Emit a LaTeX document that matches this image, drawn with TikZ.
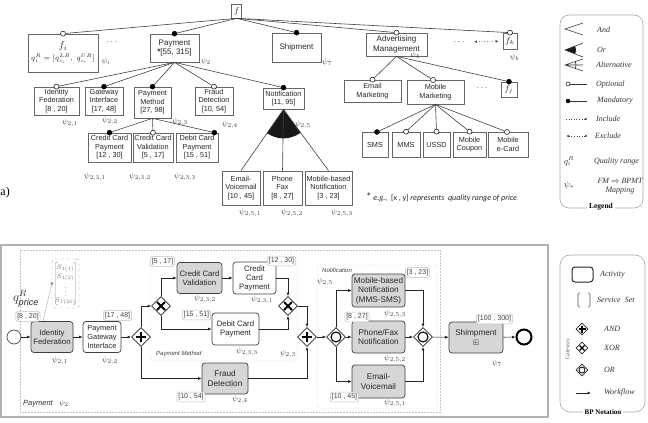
\RequirePackage{fix-cm}
\documentclass[tikz,border=0pt]{standalone}
\usepackage{amssymb}
\usepackage{fontspec}
\setmainfont{Liberation Sans}
\newfontfamily\lgfont{Liberation Serif}
\newfontfamily\notefont{Carlito}
\usetikzlibrary{shapes.geometric,arrows.meta,calc}
\definecolor{taskgray}{HTML}{D6D6D6}
\newcommand\myAND[1]{\draw[line width=2pt] ([xshift=-5pt]#1.center) -- ([xshift=5pt]#1.center) ([yshift=-5pt]#1.center) -- ([yshift=5pt]#1.center);}
\newcommand\myXOR[1]{\draw[line width=2pt] ([shift={(-4pt,-4pt)}]#1.center) -- ([shift={(4pt,4pt)}]#1.center) ([shift={(-4pt,4pt)}]#1.center) -- ([shift={(4pt,-4pt)}]#1.center);}
\newcommand\myOR[1]{\draw[line width=1.1pt] (#1.center) circle[radius=5pt];}
\begin{document}
\begin{tikzpicture}[x=1pt,y=-1pt,
  fm/.style={draw=black!60, line width=0.7pt, fill=white, inner sep=0pt, align=center, font=\fontsize{7.3}{8.4}\selectfont, text=black!85},
  fmA/.style={fm, font=\fontsize{8}{9.4}\selectfont},
  optc/.style={circle, draw=black!85, line width=0.6pt, fill=white, inner sep=0pt, minimum size=5pt},
  mandc/.style={circle, draw=black, fill=black, inner sep=0pt, minimum size=5pt},
  fml/.style={draw=black!75, line width=0.6pt},
  psi/.style={font=\fontsize{8}{9}\selectfont, text=black!75, inner sep=0pt},
  task/.style={draw=black!75, line width=0.7pt, rounded corners=3pt, fill=taskgray, inner sep=0pt, align=center, font=\fontsize{7.8}{9}\selectfont, text=black!85},
  taskB/.style={task, font=\fontsize{8.2}{9.6}\selectfont},
  wtask/.style={task, fill=white},
  rng/.style={draw=black!25, line width=0.5pt, fill=white, rounded corners=1.5pt, inner sep=1.5pt, font=\fontsize{7}{8}\selectfont, text=black!75},
  flow/.style={draw=black!85, line width=0.6pt, -{Latex[length=3.5pt,width=3pt]}},
  gw/.style={diamond, aspect=1, draw=black!85, line width=0.8pt, fill=white, inner sep=0pt, minimum width=19pt, minimum height=19pt},
  sgw/.style={diamond, aspect=1, draw=black!85, line width=0.7pt, fill=white, inner sep=0pt, minimum width=12pt, minimum height=12pt},
  grp/.style={draw=black!30, line width=0.5pt, dotted, rounded corners=3pt},
  lg/.style={font=\lgfont\itshape\fontsize{8}{9}\selectfont, text=black!80, inner sep=0pt},
]
\useasboundingbox (0,0) rectangle (648,423);

%% ================= Feature model =================
\node[fm, minimum width=10pt, minimum height=14pt, font=\fontsize{8.5}{9}\selectfont] (f) at (236.7,11) {$f$};

\node[fm, minimum width=70pt, minimum height=38pt] (fi) at (63,53) {{\fontsize{10}{12}\selectfont$f_i$}\\[2pt]{\fontsize{7.5}{9}\selectfont$q_i^R=[q^{LB}_{c_i},\ q^{UB}_{c_i}]$}};
\node[psi] (psii) at (106,61) {$\psi_i$};
\node[font=\fontsize{9}{9}\selectfont] (dots1) at (112,42) {$\cdots$};
\node[fmA, minimum width=49pt, minimum height=28pt] (pay) at (174.5,48) {Payment\\{\bfseries*}[55, 315]};
\node[psi] (psi2) at (206,61) {$\psi_2$};
\node[fmA, minimum width=49pt, minimum height=29pt] (ship) at (296.5,47.5) {Shipment};
\node[psi] (psi7) at (327,62) {$\psi_7$};
\node[fmA, minimum width=61pt, minimum height=23pt] (adv) at (396.5,44.5) {Advertising\\Management};
\node[psi] (psi4) at (415,55) {$\psi_4$};
\node[font=\fontsize{9}{9}\selectfont] (dotsk) at (459,42) {$\cdots$};
\node[fm, minimum width=14pt, minimum height=16pt, font=\fontsize{8.5}{9}\selectfont] (fk) at (510,41) {$f_k$};
\node[psi] (psik) at (515,57) {$\psi_k$};
\draw[black!75, dotted, line width=0.6pt, {Latex[length=3pt,width=2.5pt]}-{Latex[length=3pt,width=2.5pt]}, shorten <=6pt, shorten >=4pt] (dotsk) -- (fk);

\node[optc] (fio) at (fi.north) {};
\node[mandc] (paym) at (pay.north) {};
\node[mandc] (shipm) at (ship.north) {};
\node[optc] (advo) at (adv.north) {};
\node[optc] (fko) at (fk.north) {};
\draw[fml] (f.south) -- (fio);
\draw[fml] (f.south) -- (paym);
\draw[fml] (f.south) -- (shipm);
\draw[fml] (f.south) -- (advo);
\draw[fml] (f.south) -- (fko);

% level 2 under Payment
\node[fm, minimum width=45pt, minimum height=28pt] (idf) at (56.5,101) {Identity\\Federation\\{}[8 , 20]};
\node[fm, minimum width=38pt, minimum height=28pt] (gwi) at (104,101) {Gateway\\Interface\\{}[17, 48]};
\node[fm, minimum width=37pt, minimum height=31pt] (pm) at (152.5,102.5) {Payment\\Method\\{}[27, 98]};
\node[fm, minimum width=38pt, minimum height=28pt] (fd) at (214,101) {Fraud\\Detection\\{}[10, 54]};
\node[fm, minimum width=41pt, minimum height=21pt] (notif) at (283.5,98.5) {Notification\\{}[11, 95]};
\node[optc] (idfo) at (idf.north) {};
\node[mandc] (gwim) at (gwi.north) {};
\node[mandc] (pmm) at (pm.north) {};
\node[optc] (fdo) at (fd.north) {};
\node[mandc] (notifm) at (notif.north) {};
\draw[fml] (pay.south) -- (idfo);
\draw[fml] (pay.south) -- (gwim);
\draw[fml] (pay.south) -- (pmm);
\draw[fml] (pay.south) -- (fdo);
\draw[fml] (pay.south) -- (notifm);
\node[psi] (psi21) at (70,123) {$\psi_{2,1}$};
\node[psi] (psi22) at (110,121) {$\psi_{2,2}$};
\node[psi] (psi23) at (180,122) {$\psi_{2,3}$};
\node[psi] (psi24) at (230,125) {$\psi_{2,4}$};
\node[psi] (psi25) at (303,125) {$\psi_{2,5}$};

% level 3 under Payment Method
\node[fm, minimum width=43pt, minimum height=29pt] (ccp) at (109.5,147.5) {Credit Card\\Payment\\{}[12 , 30]};
\node[fm, minimum width=40pt, minimum height=29pt] (ccv) at (153,147.5) {Credit Card\\Validation\\{}[5 , 17]};
\node[fm, minimum width=42pt, minimum height=29pt] (dcp) at (197,147.5) {Debit Card\\Payment\\{}[15 , 51]};
\node[mandc] (ccpm) at (ccp.north) {};
\node[optc] (ccvo) at (ccv.north) {};
\node[mandc] (dcpm) at ([xshift=-4pt]dcp.north east) {};
\draw[fml] (pm.south) -- (ccpm);
\draw[fml] (pm.south) -- (ccvo);
\draw[fml] (pm.south) -- (dcpm);
\node[psi] (psi231) at (95,177) {$\psi_{2,3,1}$};
\node[psi] (psi232) at (140,177) {$\psi_{2,3,2}$};
\node[psi] (psi233) at (185,177) {$\psi_{2,3,3}$};

% Notification children (Or group)
\node[fm, minimum width=38pt, minimum height=34pt] (ev) at (241,188) {Email-\\Voicemail\\{}[10 , 45]};
\node[fm, minimum width=39pt, minimum height=34pt] (pf) at (282.5,188) {Phone\\Fax\\{}[8 , 27]};
\node[fm, minimum width=47pt, minimum height=34pt] (mbn) at (328.5,188) {Mobile-based\\Notification\\{}[3 , 23]};
\begin{scope}
  \clip (notif.south) -- (ev.north) -- (mbn.north) -- cycle;
  \fill[black!90] (notif.south) circle[radius=29pt];
\end{scope}
\draw[fml] (notif.south) -- (ev.north);
\draw[fml] (notif.south) -- (pf.north);
\draw[fml] (notif.south) -- (mbn.north);
\node[psi] (psi251) at (250,213) {$\psi_{2,5,1}$};
\node[psi] (psi252) at (292,213) {$\psi_{2,5,2}$};
\node[psi] (psi253) at (342,213) {$\psi_{2,5,3}$};

% Advertising children
\node[fm, minimum width=57pt, minimum height=22pt] (em) at (372.5,91) {Email\\Marketing};
\node[fm, minimum width=57pt, minimum height=24pt] (mm) at (435.5,92) {Mobile\\Marketing};
\node[font=\fontsize{9}{9}\selectfont] (dots2) at (482,88) {$\cdots$};
\node[fm, minimum width=16pt, minimum height=15pt, font=\fontsize{8.5}{9}\selectfont] (fj) at (509,89.5) {$f_j$};
\node[optc] (emo) at (em.north) {};
\node[optc] (mmo) at (433,80) {};
\node[mandc] (fjm) at (fj.north) {};
\draw[fml] (adv.south) -- (emo);
\draw[fml] (adv.south) -- (mmo);
\draw[fml] (adv.south) -- (fjm);

% Mobile marketing children
\node[fm, minimum width=26pt, minimum height=25pt] (sms) at (375,144.5) {SMS};
\node[fm, minimum width=28pt, minimum height=25pt] (mms) at (406,144.5) {MMS};
\node[fm, minimum width=27pt, minimum height=25pt] (ussd) at (436.5,144.5) {USSD};
\node[fm, minimum width=33pt, minimum height=25pt] (mcp) at (469.5,144.5) {Mobile\\Coupon};
\node[fm, minimum width=40pt, minimum height=25pt] (mec) at (508,144.5) {Mobile\\e-Card};
\node[mandc] (smsm) at (377,132) {};
\node[optc] (mmso) at (mms.north) {};
\node[optc] (ussdo) at (ussd.north) {};
\node[optc] (mcpo) at (mcp.north) {};
\node[optc] (meco) at (507,132) {};
\draw[fml] (mm.south) -- (smsm);
\draw[fml] (mm.south) -- (mmso);
\draw[fml] (mm.south) -- (ussdo);
\draw[fml] (mm.south) -- (mcpo);
\draw[fml] (mm.south) -- (meco);

\node[anchor=west, inner sep=0pt, font=\notefont\itshape\fontsize{8}{9}\selectfont, text=black!85] (note) at (366,197) {{\upshape\fontsize{11}{9}\selectfont *}\ e.g.,\ \ {\upshape[x , y]} represents\ \ quality range of price};
\node[anchor=east, inner sep=0pt, font=\lgfont\fontsize{12}{12}\selectfont] (alabel) at (10,193) {a)};

%% ---------------- Legend (FM) ----------------
\draw[black!35, rounded corners=9pt, line width=0.6pt] (560,15) rectangle (643,208);
\node[fill=white, inner sep=2pt, font=\lgfont\bfseries\fontsize{7.5}{8}\selectfont] (legt) at (601,207) {Legend};
\draw[black!80, line width=0.6pt] (583,23) -- (565,29) -- (583,35);
\begin{scope}
  \clip (565,50) -- (583,43) -- (583,57) -- cycle;
  \fill[black!90] (565,50) circle[radius=11pt];
\end{scope}
\draw[black!80, line width=0.6pt] (583,43) -- (565,50) -- (583,57);
\draw[black!80, line width=0.6pt] (583,59) -- (565,65) -- (583,71) (565,65) -- (583,65);
\begin{scope}
  \clip (565,65) -- (590,56) -- (590,74) -- cycle;
  \draw[black!80, line width=0.6pt] (565,65) circle[radius=11pt];
\end{scope}
\draw[black!80, line width=0.6pt] (569,84) -- (587,84);
\node[optc, minimum size=4pt] (lgopt) at (568,84) {};
\draw[black!80, line width=0.6pt] (568,101) -- (587,101);
\node[mandc, minimum size=4pt] (lgman) at (568,101) {};
\draw[black!70, dotted, line width=0.6pt, -{Latex[length=3pt,width=2.5pt]}] (566,119) -- (588,119);
\draw[black!70, dotted, line width=0.6pt, {Latex[length=3pt,width=2.5pt]}-{Latex[length=3pt,width=2.5pt]}] (566,136) -- (588,136);
\node[lg, anchor=west] (lgand) at (597,30) {And};
\node[lg, anchor=west] (lgor) at (597,50) {Or};
\node[lg, anchor=west] (lgalt) at (596,65) {Alternative};
\node[lg, anchor=west] (lgopl) at (596,85) {Optional};
\node[lg, anchor=west] (lgmal) at (597,101) {Mandatory};
\node[lg, anchor=west] (lginc) at (596,119) {Include};
\node[lg, anchor=west] (lgexc) at (595,136) {Exclude};
\node[font=\fontsize{9}{10}\selectfont, text=black!80, inner sep=0pt] (lgq) at (569,161) {$q_i^R$};
\node[lg, anchor=west] (lgqr) at (594,162) {Quality range};
\node[font=\fontsize{9}{10}\selectfont, text=black!80, inner sep=0pt] (lgpsi) at (569,185) {$\psi_*$};
\node[lg, align=center] (lgmap) at (620,186) {FM $\Rightarrow$ BPMT\\Mapping};

%% ================= BP model =================
\draw[black!30, line width=1.5pt] (0.8,245) rectangle (548,417);
\draw[black!22, line width=0.5pt, densely dotted] (20,250) rectangle (440,412);
\draw[grp] (150,257) rectangle (297,360);
\draw[grp] (317,265) rectangle (437,408);
\node[anchor=west, inner sep=0pt, font=\itshape\fontsize{6}{7}\selectfont, text=black!75] (pmlab) at (156,354) {Payment Method};
\node[anchor=west, inner sep=0pt, font=\itshape\fontsize{6}{7}\selectfont, text=black!75] (ntlab) at (322,270) {Notification};
\node[anchor=west, inner sep=0pt, font=\itshape\fontsize{7.5}{8}\selectfont, text=black!80] (paylab) at (23,404) {Payment\ \ \ $\psi_2$};

\node[circle, draw=black!70, line width=0.7pt, minimum size=14pt, inner sep=0pt] (start) at (14,337) {};
\node[task, minimum width=42pt, minimum height=31pt] (idf2) at (52,337) {Identity\\Federation};
\node[wtask, font=\fontsize{7.4}{8.6}\selectfont, minimum width=38pt, minimum height=31pt] (pgi) at (102,337) {Payment\\Gateway\\Interface};
\node[gw] (and1) at (141,337) {};
\node[gw] (xor1) at (161,306) {};
\node[task, minimum width=45pt, minimum height=31pt] (ccv2) at (199.5,278) {Credit Card\\Validation};
\node[wtask, minimum width=43pt, minimum height=32pt] (ccp2) at (254.5,278) {Credit\\Card\\Payment};
\node[wtask, minimum width=47pt, minimum height=32pt] (dcp2) at (235.5,329) {Debit Card\\Payment};
\node[gw] (xor2) at (288,306) {};
\node[taskB, minimum width=46pt, minimum height=31pt] (fd2) at (225,378.5) {Fraud\\Detection};
\node[gw] (and2) at (307,337) {};
\node[gw] (or1) at (336,337) {};
\node[taskB, minimum width=53pt, minimum height=33pt] (mbn2) at (378.5,290.5) {Mobile-based\\Notification\\(MMS-SMS)};
\node[taskB, minimum width=53pt, minimum height=32pt] (pf2) at (378.5,337) {Phone/Fax\\Notification};
\node[taskB, minimum width=53pt, minimum height=33pt] (ev2) at (378.5,381.5) {Email-\\Voicemail};
\node[gw] (or2) at (423,337) {};
\node[taskB, minimum width=54pt, minimum height=31pt] (ship2) at (476,337.5) {Shimpment\\[1pt]{\fontsize{7}{7}\selectfont$\boxplus$}};
\node[circle, draw=black, line width=2pt, minimum size=15pt, inner sep=0pt] (end) at (524,337) {};
\myAND{and1} \myAND{and2}
\myXOR{xor1} \myXOR{xor2}
\myOR{or1} \myOR{or2}

\draw[flow] (start) -- (idf2);
\draw[flow] (idf2) -- (pgi);
\draw[flow] (pgi) -- (and1);
\draw[flow] (and1.north) |- (xor1.west);
\draw[flow] (and1.south) |- (fd2.west);
\draw[flow] (xor1.north) |- (ccv2.west);
\draw[flow] (xor1.south) |- (dcp2.west);
\draw[flow] (ccv2) -- (ccp2);
\draw[flow] (ccp2.east) -| (xor2.north);
\draw[flow] (dcp2.east) -| (xor2.south);
\draw[flow] (xor2.east) -| (and2.north);
\draw[flow] (fd2.east) -| (and2.south);
\draw[flow] (and2) -- (or1);
\draw[flow] (or1.north) |- (mbn2.west);
\draw[flow] (or1) -- (pf2);
\draw[flow] (or1.south) |- (ev2.west);
\draw[flow] (mbn2.east) -| (or2.north);
\draw[flow] (pf2) -- (or2);
\draw[flow] (ev2.east) -| (or2.south);
\draw[flow] (or2) -- (ship2);
\draw[flow] (ship2) -- (end);

% ranges
\node[rng] (r1) at (28,316.5) {[8 , 20]};
\node[rng] (r2) at (117.5,315.5) {[17 , 48]};
\node[rng] (r3) at (162.5,261.5) {[5 , 17]};
\node[rng] (r4) at (281.5,261) {[12 , 30]};
\node[rng] (r5) at (196.5,315) {[15 , 51]};
\node[rng] (r6) at (191,397) {[10 , 54]};
\node[rng] (r7) at (417.5,272.5) {[3 , 23]};
\node[rng] (r8) at (357,317) {[8 , 27]};
\node[rng] (r9) at (344.5,397) {[10 , 45]};
\node[rng] (r10) at (494.5,319) {[100 , 300]};

% psi labels
\node[psi] (b21) at (60,361) {$\psi_{2,1}$};
\node[psi] (b22) at (110,361) {$\psi_{2,2}$};
\node[psi] (b232) at (205,299) {$\psi_{2,3,2}$};
\node[psi] (b231) at (262,300) {$\psi_{2,3,1}$};
\node[psi] (b233) at (247,352) {$\psi_{2,3,3}$};
\node[psi] (b23) at (288,354) {$\psi_{2,3}$};
\node[psi] (b24) at (240,400) {$\psi_{2,4}$};
\node[psi] (b25) at (325,282) {$\psi_{2,5}$};
\node[psi] (b253) at (395,314) {$\psi_{2,5,3}$};
\node[psi] (b252) at (395,359) {$\psi_{2,5,2}$};
\node[psi] (b251) at (395,403) {$\psi_{2,5,1}$};
\node[psi] (b7) at (497,363) {$\psi_7$};

% quality range of price and service set
\node[font=\fontsize{13}{14}\selectfont, text=black!85] (qp) at (26,299) {$q^{R}_{\mathit{price}}$};
\node[draw=black!40, dashed, rounded corners=3pt, minimum width=27pt, minimum height=49pt, inner sep=0pt] (ss) at (65.5,283.5) {};
\draw[black!45, rounded corners=2pt] (58,262) -- (55.5,262) -- (55.5,305) -- (58,305);
\draw[black!45, rounded corners=2pt] (73,262) -- (75.5,262) -- (75.5,305) -- (73,305);
\node[text=black!55, font=\fontsize{7}{8}\selectfont, inner sep=0pt] (s1) at (65.5,268) {$S_{1(1)}$};
\node[text=black!55, font=\fontsize{7}{8}\selectfont, inner sep=0pt] (s2) at (65.5,277) {$S_{1(2)}$};
\node[text=black!55, font=\fontsize{7}{8}\selectfont, inner sep=0pt] (s3) at (65.5,289) {$\vdots$};
\node[text=black!55, font=\fontsize{7}{8}\selectfont, inner sep=0pt] (s4) at (65.5,301) {$S_{1(20)}$};
\draw[black!45, densely dotted, line width=0.7pt] ([xshift=-9pt]idf2.north) -- (ss.west);
\fill[black!45] (ss.west) circle[radius=1.5pt];

%% ---------------- BP Notation legend ----------------
\draw[black!35, rounded corners=10pt, line width=0.6pt] (560,255) rectangle (645,412);
\node[fill=white, inner sep=2pt, font=\lgfont\bfseries\fontsize{7}{8}\selectfont] (bpt) at (603,412) {BP Notation};
\node[draw=black!85, line width=1pt, rounded corners=3pt, minimum width=21pt, minimum height=15pt, inner sep=0pt] (lact) at (582.5,274.5) {};
\node[lg, anchor=west] (lacttx) at (600,275) {Activity};
\draw[black!70, line width=0.6pt, rounded corners=1.5pt] (580,293) -- (578,293) -- (578,307) -- (580,307);
\draw[black!70, line width=0.6pt, rounded corners=1.5pt] (588,293) -- (590,293) -- (590,307) -- (588,307);
\node[lg, anchor=west] (lsstx) at (597,300) {Service\ \ Set};
\node[sgw] (land) at (582,329) {};
\node[sgw] (lxor) at (582,348) {};
\node[sgw] (lor) at (582,370) {};
\draw[line width=1.3pt] ([xshift=-3.5pt]land.center) -- ([xshift=3.5pt]land.center) ([yshift=-3.5pt]land.center) -- ([yshift=3.5pt]land.center);
\draw[line width=1.3pt] ([shift={(-2.5pt,-2.5pt)}]lxor.center) -- ([shift={(2.5pt,2.5pt)}]lxor.center) ([shift={(-2.5pt,2.5pt)}]lxor.center) -- ([shift={(2.5pt,-2.5pt)}]lxor.center);
\draw[line width=0.8pt] (lor.center) circle[radius=3pt];
\node[lg, anchor=west] (landtx) at (604,329) {AND};
\node[lg, anchor=west] (lxortx) at (604,348) {XOR};
\node[lg, anchor=west] (lortx) at (604,370) {OR};
\node[rotate=90, font=\lgfont\fontsize{6}{7}\selectfont, text=black!60, inner sep=0pt] (lgw) at (568,349) {Gateway};
\draw[flow] (576,393) -- (591,393);
\node[lg, anchor=west] (lwftx) at (604,393) {Workflow};
\end{tikzpicture}
\end{document}
